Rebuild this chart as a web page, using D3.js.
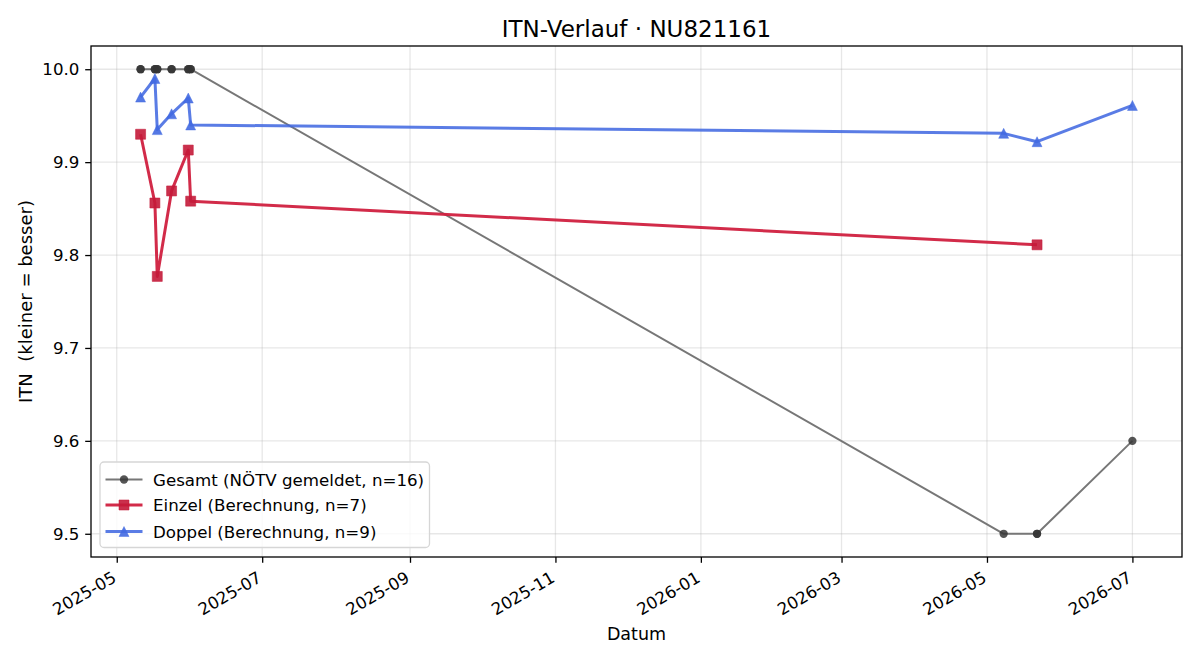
<!DOCTYPE html>
<html>
<head>
<meta charset="utf-8">
<script src="https://cdn.jsdelivr.net/npm/d3@7"></script>
<style>
  html, body { margin: 0; padding: 0; background: #fff; }
  svg { display: block; font-family: "DejaVu Sans", sans-serif; }
  text { white-space: pre; }
</style>
</head>
<body>
<svg id="chart" width="1200" height="660"></svg>
<script>
// ---- data ----
const gesamtDates = ["2025-05-11","2025-05-11","2025-05-17","2025-05-17","2025-05-18","2025-05-18",
  "2025-05-24","2025-05-24","2025-05-31","2025-05-31","2025-06-01","2025-06-01",
  "2026-05-08","2026-05-22","2026-05-22","2026-07-01"];
const gesamtValues = [10.0,10.0,10.0,10.0,10.0,10.0,10.0,10.0,10.0,10.0,10.0,10.0,9.5,9.5,9.5,9.6];

const einzelDates = ["2025-05-11","2025-05-17","2025-05-18","2025-05-24","2025-05-31","2025-06-01","2026-05-22"];
const einzelValues = [9.930, 9.856, 9.777, 9.869, 9.913, 9.858, 9.811];

const doppelDates = ["2025-05-11","2025-05-17","2025-05-18","2025-05-24","2025-05-31","2025-06-01",
  "2026-05-08","2026-05-22","2026-07-01"];
const doppelValues = [9.970, 9.990, 9.935, 9.952, 9.969, 9.940, 9.931, 9.922, 9.961];

const yTicks = [9.5, 9.6, 9.7, 9.8, 9.9, 10.0];
const seriesLabels = ["Gesamt (NÖTV gemeldet, n=16)", "Einzel (Berechnung, n=7)", "Doppel (Berechnung, n=9)"];
const titleText = "ITN-Verlauf · NU821161";
const xLabelText = "Datum";
const yLabelText = "ITN  (kleiner = besser)";

// ---- layout ----
const svg = d3.select("#chart");
const L = 91, R = 1182, T = 46, B = 557;
const FS = 16.67;
const parse = d3.utcParse("%Y-%m-%d");

const mk = (ds, vs) => ds.map((d, i) => ({ date: parse(d), value: vs[i] }));
const gesamt = mk(gesamtDates, gesamtValues);
const einzel = mk(einzelDates, einzelValues);
const doppel = mk(doppelDates, doppelValues);
const all = gesamt.concat(einzel, doppel);

const [xmin, xmax] = d3.extent(all, d => +d.date);
const xr = xmax - xmin;
const x = d3.scaleUtc()
  .domain([new Date(xmin - 0.05 * xr), new Date(xmax + 0.05 * xr)])
  .range([L, R]);
const [ymin, ymax] = d3.extent(all, d => d.value);
const yr = ymax - ymin;
const y = d3.scaleLinear().domain([ymin - 0.05 * yr, ymax + 0.05 * yr]).range([B, T]);

const xTicks = x.ticks(d3.utcMonth.every(2));
const fmtX = d3.utcFormat("%Y-%m");

// grid
const grid = svg.append("g");
grid.selectAll(".gx").data(xTicks).join("line")
  .attr("x1", d => x(d)).attr("x2", d => x(d)).attr("y1", T).attr("y2", B)
  .attr("stroke", "#b0b0b0").attr("stroke-opacity", 0.3).attr("stroke-width", 1.3);
grid.selectAll(".gy").data(yTicks).join("line")
  .attr("x1", L).attr("x2", R).attr("y1", d => y(d)).attr("y2", d => y(d))
  .attr("stroke", "#b0b0b0").attr("stroke-opacity", 0.3).attr("stroke-width", 1.3);

// axes
const TL = 5.8, TP = 5.8;
const xAxis = svg.append("g").attr("transform", `translate(0,${B})`)
  .call(d3.axisBottom(x).tickValues(xTicks).tickFormat(fmtX).tickSize(TL).tickPadding(TP));
xAxis.select(".domain").remove();
xAxis.selectAll(".tick line").attr("stroke", "#000").attr("stroke-width", 1.3);
const asc = 0.76 * FS, desc = 0.23 * FS;
xAxis.selectAll(".tick text")
  .attr("font-size", FS).attr("font-family", "DejaVu Sans").attr("fill", "#000")
  .attr("text-anchor", "end").attr("y", 0).attr("dy", null)
  .attr("transform", `translate(${-0.5 * desc + 2},${TL + TP + 0.866 * asc + 1.5}) rotate(-30)`);

const yAxis = svg.append("g").attr("transform", `translate(${L},0)`)
  .call(d3.axisLeft(y).tickValues(yTicks).tickFormat(d3.format(".1f")).tickSize(TL).tickPadding(TP));
yAxis.select(".domain").remove();
yAxis.selectAll(".tick line").attr("stroke", "#000").attr("stroke-width", 1.3);
yAxis.selectAll(".tick text").attr("font-size", FS).attr("font-family", "DejaVu Sans").attr("fill", "#000");

// markers
const triUp = {
  draw(ctx, size) {
    const h = Math.sqrt(size) / 2;
    ctx.moveTo(0, -h); ctx.lineTo(h, h); ctx.lineTo(-h, h); ctx.closePath();
  }
};
const symType = { circle: d3.symbolCircle, square: d3.symbolSquare, triangle: triUp };

// series
const styles = [
  { data: gesamt, line: "#777777", lop: 1, lw: 2, fill: "#353535", fop: 0.84, marker: "circle", size: 54, sw: 0 },
  { data: einzel, line: "#d0203f", lop: 0.95, lw: 3, fill: "#c41a39", fop: 0.9, marker: "square", size: 100, sw: 1 },
  { data: doppel, line: "#4169e1", lop: 0.87, lw: 3, fill: "#4169e1", fop: 0.9, marker: "triangle", size: 100, sw: 0.8 }
];

const line = d3.line().x(d => x(d.date)).y(d => y(d.value));
styles.forEach(s => {
  const g = svg.append("g");
  g.append("path").datum(s.data).attr("d", line)
    .attr("fill", "none").attr("stroke", s.line).attr("stroke-opacity", s.lop)
    .attr("stroke-width", s.lw).attr("stroke-linejoin", "round").attr("stroke-linecap", "butt");
  const sym = d3.symbol().type(symType[s.marker]).size(s.size);
  g.selectAll("path.m").data(s.data).join("path").attr("class", "m")
    .attr("d", sym)
    .attr("transform", d => `translate(${x(d.date)},${y(d.value)})`)
    .attr("fill", s.fill).attr("fill-opacity", s.fop)
    .attr("stroke", s.fill).attr("stroke-opacity", s.fop * 0.6).attr("stroke-width", s.sw);
});

// frame
svg.append("rect").attr("x", L).attr("y", T).attr("width", R - L).attr("height", B - T)
  .attr("fill", "none").attr("stroke", "#000").attr("stroke-width", 1.3);

// legend
const lg = svg.append("g");
lg.append("rect").attr("x", 100).attr("y", 462).attr("width", 329.5).attr("height", 85.5)
  .attr("rx", 4).attr("fill", "#fff").attr("fill-opacity", 0.8)
  .attr("stroke", "#d6d6d6").attr("stroke-width", 1.3);
const rowsY = [479.5, 505, 531.5];
styles.forEach((s, i) => {
  lg.append("line").attr("x1", 105.5).attr("x2", 142.5).attr("y1", rowsY[i]).attr("y2", rowsY[i])
    .attr("stroke", s.line).attr("stroke-opacity", s.lop).attr("stroke-width", s.lw);
  lg.append("path").attr("d", d3.symbol().type(symType[s.marker]).size(s.size)())
    .attr("transform", `translate(124,${rowsY[i]})`)
    .attr("fill", s.fill).attr("fill-opacity", s.fop)
    .attr("stroke", s.fill).attr("stroke-opacity", s.fop * 0.6).attr("stroke-width", s.sw);
  lg.append("text").attr("x", 153).attr("y", rowsY[i]).attr("dy", "0.36em")
    .attr("font-size", FS).attr("fill", "#000").text(seriesLabels[i]);
});

// titles
svg.append("text").attr("x", (L + R) / 2).attr("y", 36.7).attr("text-anchor", "middle")
  .attr("font-size", 23).attr("fill", "#000").text(titleText);
svg.append("text").attr("x", (L + R) / 2).attr("y", 640).attr("text-anchor", "middle")
  .attr("font-size", 17.5).attr("fill", "#000").text(xLabelText);
svg.append("text").attr("transform", `translate(31.5,${(T + B) / 2}) rotate(-90)`)
  .attr("text-anchor", "middle").attr("font-size", 18).attr("fill", "#000").text(yLabelText);
</script>
</body>
</html>
